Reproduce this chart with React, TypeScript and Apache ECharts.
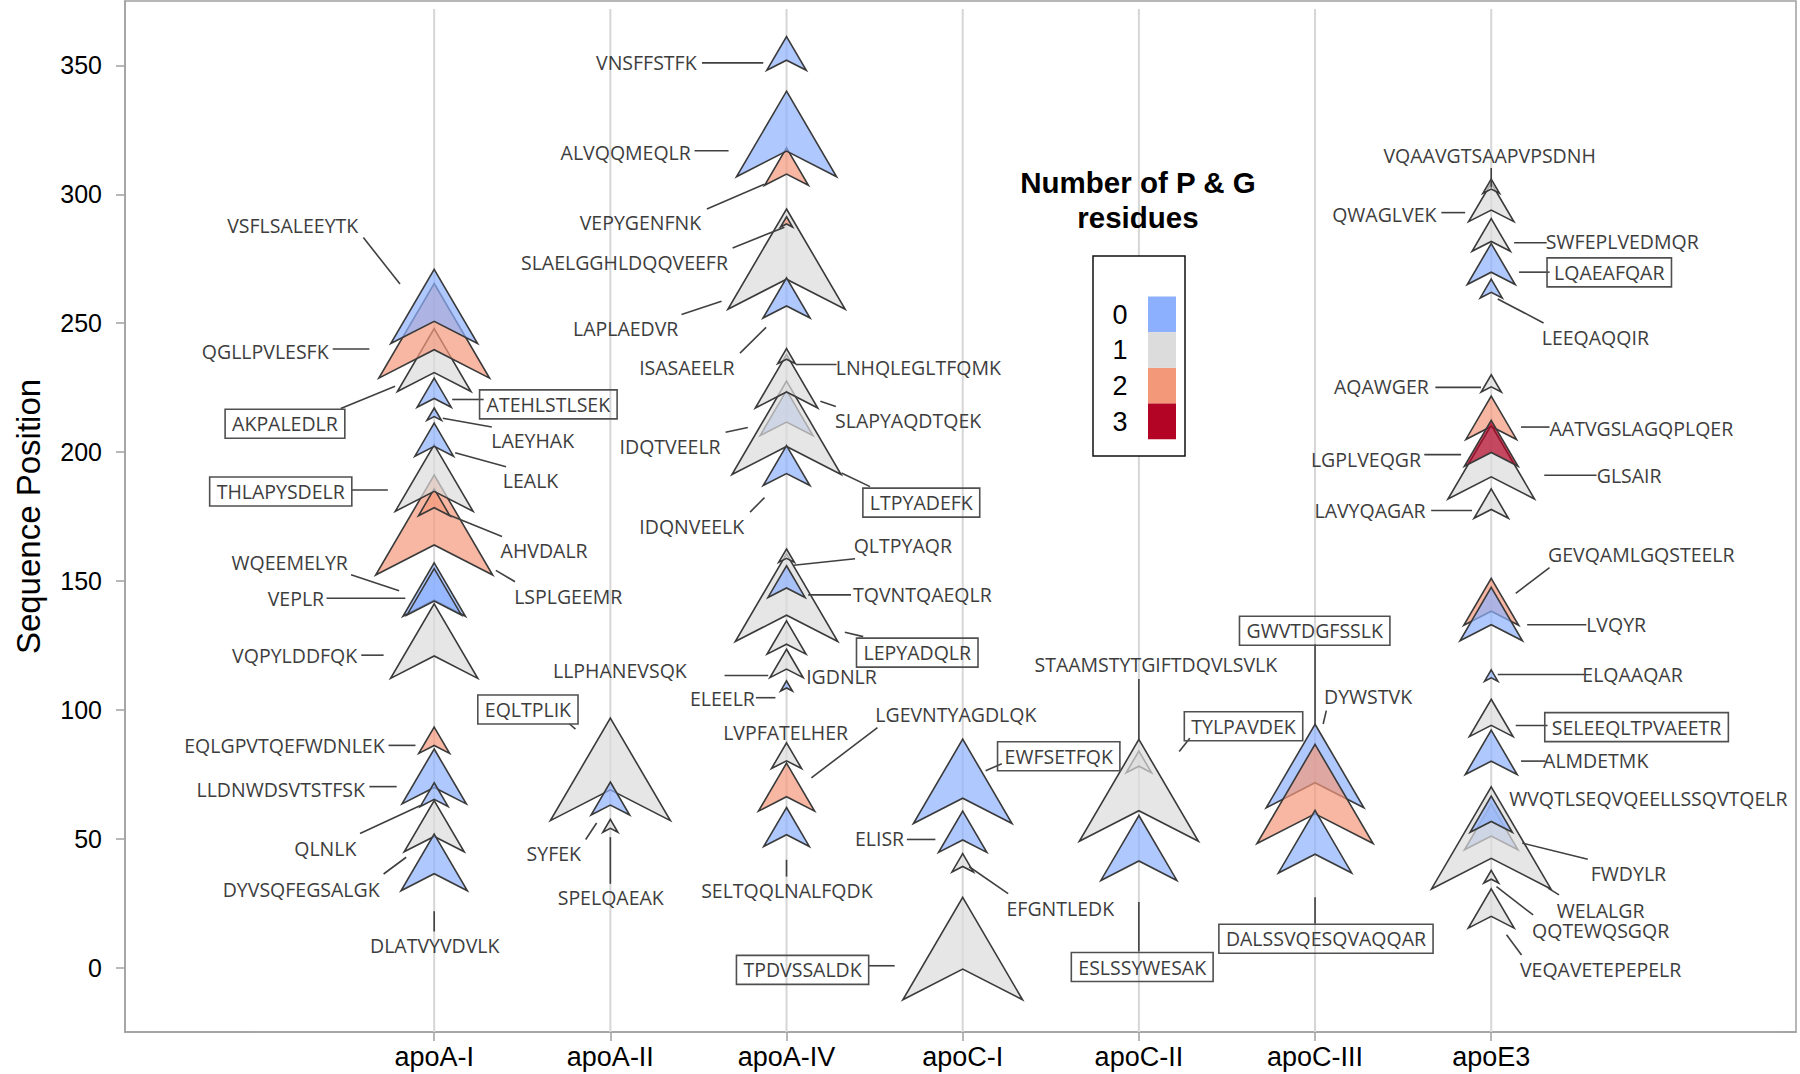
import React, { useEffect, useRef } from 'react';
import * as echarts from 'echarts';

const proteins = ['apoA-I', 'apoA-II', 'apoA-IV', 'apoC-I', 'apoC-II', 'apoC-III', 'apoE3'];
const yTicks = [0, 50, 100, 150, 200, 250, 300, 350];
const pgLevels = [0, 1, 2, 3];
const pgColors = ['#8db0fe', '#dcdcdc', '#f4987a', '#b40426'];
const legendTitle = ['Number of P & G', 'residues'];

// peptide marks: [protein index, sequence position of tip, peptide span, number of P & G residues] (drawing order)
const apoA1Peptides = [
  [0, 247.9, 24.4, 1], [0, 265.4, 36.7, 2], [0, 270.9, 28.8, 0], [0, 228.7, 11.3, 0],
  [0, 217.1, 4.8, 0], [0, 191.1, 38.8, 2], [0, 185.7, 10.4, 2], [0, 202.8, 25.8, 1],
  [0, 211.2, 12.8, 0], [0, 141.1, 28.9, 1], [0, 157.0, 20.7, 0], [0, 154.8, 18.0, 0],
  [0, 64.8, 19.9, 1], [0, 51.8, 22.0, 0], [0, 84.8, 21.3, 0], [0, 71.7, 9.2, 0],
  [0, 93.3, 10.2, 2],
];
const apoA2Peptides = [[1, 96.8, 39.8, 1], [1, 72.0, 12.8, 0], [1, 57.5, 5.0, 1]];
const apoA4Peptides = [
  [2, 361.2, 13.1, 0], [2, 318.0, 14.5, 2], [2, 340.0, 33.2, 0], [2, 294.3, 38.9, 1],
  [2, 291.3, 4.0, 2], [2, 267.6, 15.6, 0], [2, 223.9, 17.5, 0], [2, 227.5, 36.2, 1],
  [2, 237.8, 20.7, 1], [2, 240.1, 5.8, 1], [2, 202.5, 15.5, 0], [2, 160.5, 34.0, 1],
  [2, 162.4, 5.2, 1], [2, 155.9, 12.3, 0], [2, 134.5, 12.9, 1], [2, 123.5, 11.0, 1],
  [2, 111.2, 3.9, 0], [2, 87.2, 10.0, 1], [2, 79.3, 18.6, 2], [2, 62.1, 15.1, 0],
];
const apoC1Peptides = [[3, 88.6, 32.7, 0], [3, 60.7, 16.0, 0], [3, 44.2, 7.1, 1], [3, 27.2, 39.7, 1]];
const apoC2Peptides = [[4, 84.0, 8.4, 1], [4, 88.5, 39.5, 1], [4, 59.0, 25.2, 0]];
const apoC3Peptides = [[5, 94.4, 32.4, 0], [5, 86.6, 38.5, 2], [5, 61.0, 24.3, 0]];
const apoE3Peptides = [
  [6, 304.4, 15.0, 1], [6, 305.9, 5.5, 1], [6, 290.6, 12.7, 1], [6, 280.9, 15.9, 0],
  [6, 267.1, 7.3, 0], [6, 230.0, 6.7, 1], [6, 210.5, 28.7, 1], [6, 221.7, 16.8, 2],
  [6, 212.3, 17.8, 3], [6, 185.7, 11.4, 1], [6, 151.0, 18.2, 2], [6, 147.5, 20.7, 0],
  [6, 115.5, 4.4, 0], [6, 104.1, 14.5, 1], [6, 92.1, 17.2, 0], [6, 63.4, 17.7, 0],
  [6, 70.1, 39.6, 1], [6, 66.5, 14.0, 0], [6, 37.7, 4.9, 1], [6, 30.5, 15.2, 1],
];

// peptide labels in data units: [text, x, y, leader x1, y1, x2, y2, boxed]
const peptideLabels: any[] = [
  ['VSFLSALEEYTK', -0.803, 287.9, -0.402, 283.2, -0.194, 265.2, 0],
  ['QGLLPVLESFK', -0.959, 239.1, -0.576, 240.0, -0.368, 240.0, 0],
  ['AKPALEDLR', -0.847, 211.0, -0.530, 216.9, -0.222, 225.5, 1],
  ['ATEHLSTLSEK', 0.648, 218.5, 0.102, 220.4, 0.281, 220.4, 1],
  ['LAEYHAK', 0.559, 204.4, 0.049, 213.1, 0.327, 209.7, 0],
  ['LEALK', 0.547, 189.0, 0.119, 199.7, 0.408, 194.3, 0],
  ['THLAPYSDELR', -0.871, 184.7, -0.468, 185.3, -0.263, 185.3, 1],
  ['AHVDALR', 0.624, 161.8, 0.084, 175.6, 0.385, 167.2, 0],
  ['WQEEMELYR', -0.820, 157.2, -0.472, 152.4, -0.199, 146.2, 0],
  ['VEPLR', -0.785, 143.3, -0.611, 143.3, -0.164, 143.3, 0],
  ['LSPLGEEMR', 0.761, 143.9, 0.350, 154.1, 0.459, 149.7, 0],
  ['VQPYLDDFQK', -0.792, 120.9, -0.414, 121.2, -0.287, 121.2, 0],
  ['EQLGPVTQEFWDNLEK', -0.850, 86.0, -0.259, 86.2, -0.106, 86.2, 0],
  ['LLDNWDSVTSTFSK', -0.871, 69.2, -0.368, 70.2, -0.213, 70.2, 0],
  ['QLNLK', -0.618, 46.2, -0.421, 52.0, -0.078, 62.9, 0],
  ['DYVSQFEGSALGK', -0.755, 30.4, -0.287, 36.3, -0.159, 42.8, 0],
  ['DLATVYVDVLK', 0.003, 8.5, 0, 21.8, 0, 14.0, 0],
  ['EQLTPLIK', 0.532, 100.1, 0.767, 94.6, 0.802, 92.5, 1],
  ['SYFEK', 0.679, 44.1, 0.860, 49.7, 0.922, 56.1, 0],
  ['SPELQAEAK', 1.002, 27.2, 1, 50.6, 1, 32.5, 0],
  ['VNSFFSTFK', 1.204, 351.3, 1.520, 351.0, 1.868, 351.0, 0],
  ['ALVQQMEQLR', 1.087, 316.1, 1.478, 316.9, 1.671, 316.9, 0],
  ['VEPYGENFNK', 1.171, 289.0, 1.548, 294.3, 1.875, 303.9, 0],
  ['SLAELGGHLDQQVEEFR', 1.080, 273.4, 1.694, 279.2, 1.988, 287.2, 0],
  ['LAPLAEDVR', 1.087, 248.0, 1.404, 253.4, 1.631, 258.5, 0],
  ['ISASAEELR', 1.434, 232.7, 1.736, 238.4, 1.884, 248.4, 0],
  ['LNHQLEGLTFQMK', 2.748, 232.7, 2.053, 234.0, 2.284, 234.0, 0],
  ['SLAPYAQDTQEK', 2.690, 212.1, 2.192, 219.7, 2.280, 217.7, 0],
  ['IDQTVEELR', 1.339, 202.2, 1.654, 207.7, 1.780, 209.5, 0],
  ['LTPYADEFK', 2.765, 180.4, 2.312, 191.9, 2.474, 186.6, 1],
  ['IDQNVEELK', 1.462, 171.3, 1.793, 176.7, 1.875, 182.3, 0],
  ['QLTPYAQR', 2.660, 163.8, 2.041, 156.1, 2.389, 158.6, 0],
  ['TQVNTQAEQLR', 2.771, 144.6, 2.123, 144.6, 2.366, 144.6, 0],
  ['LEPYADQLR', 2.742, 122.2, 2.331, 130.1, 2.435, 128.4, 1],
  ['LLPHANEVSQK', 1.054, 115.2, 1.648, 113.3, 1.896, 113.3, 0],
  ['IGDNLR', 2.312, 113.1, null, null, null, null, 0],
  ['ELEELR', 1.636, 104.5, 1.826, 104.7, 1.937, 104.7, 0],
  ['LVPFATELHER', 1.995, 91.2, null, null, null, null, 0],
  ['LGEVNTYAGDLQK', 2.961, 98.3, 2.141, 73.6, 2.516, 93.1, 0],
  ['SELTQQLNALFQDK', 2.002, 29.8, 2, 41.8, 2, 35.3, 0],
  ['EWFSETFQK', 3.545, 82.0, 3.130, 76.4, 3.222, 79.1, 1],
  ['ELISR', 2.528, 50.0, 2.683, 49.7, 2.845, 49.7, 0],
  ['EFGNTLEDK', 3.554, 22.9, 3.037, 39.1, 3.258, 28.7, 0],
  ['TPDVSSALDK', 2.091, -0.9, 2.465, 0.7, 2.614, 0.7, 1],
  ['STAAMSTYTGIFTDQVLSVLK', 4.096, 117.5, 4, 112.0, 4, 88.4, 0],
  ['TYLPAVDEK', 4.594, 93.6, 4.289, 89.0, 4.229, 83.8, 1],
  ['ESLSSYWESAK', 4.019, 0.2, 4, 25.4, 4, 6.2, 1],
  ['GWVTDGFSSLK', 4.998, 130.7, 5, 125.4, 5, 94.2, 1],
  ['DYWSTVK', 5.301, 105.1, 5.046, 94.5, 5.064, 99.7, 0],
  ['DALSSVQESQVAQQAR', 5.062, 11.2, 5, 27.3, 5, 17.0, 1],
  ['VQAAVGTSAAPVPSDNH', 5.991, 315.2, 6, 310.2, 6, 302.6, 0],
  ['QWAGLVEK', 5.393, 292.3, 5.717, 292.9, 5.852, 292.9, 0],
  ['SWFEPLVEDMQR', 6.744, 281.6, 6.130, 281.2, 6.315, 281.2, 0],
  ['LQAEAFQAR', 6.670, 269.7, 6.158, 269.8, 6.331, 269.8, 1],
  ['LEEQAQQIR', 6.591, 244.5, 6.037, 259.4, 6.297, 250.1, 0],
  ['AQAWGER', 5.377, 225.3, 5.683, 225.1, 5.942, 225.1, 0],
  ['AATVGSLAGQPLQER', 6.852, 209.0, 6.169, 209.7, 6.331, 209.7, 0],
  ['LGPLVEQGR', 5.289, 197.0, 5.620, 199.0, 5.829, 199.0, 0],
  ['GLSAIR', 6.783, 191.0, 6.301, 191.0, 6.598, 191.0, 0],
  ['LAVYQAGAR', 5.312, 177.3, 5.659, 177.3, 5.891, 177.3, 0],
  ['GEVQAMLGQSTEELR', 6.852, 160.4, 6.331, 155.2, 6.139, 145.2, 0],
  ['LVQYR', 6.709, 133.2, 6.204, 133.0, 6.540, 133.0, 0],
  ['ELQAAQAR', 6.802, 113.7, 6.037, 113.7, 6.528, 113.7, 0],
  ['SELEEQLTPVAEETR', 6.825, 93.3, 6.139, 93.9, 6.320, 93.9, 1],
  ['ALMDETMK', 6.593, 80.5, 6.169, 80.1, 6.308, 80.1, 0],
  ['WVQTLSEQVQEELLSSQVTQELR', 6.892, 65.4, null, null, null, null, 0],
  ['FWDYLR', 6.779, 36.3, 6.176, 48.3, 6.548, 42.0, 0],
  ['WELALGR', 6.621, 22.2, 6.323, 30.8, 6.385, 28.2, 0],
  ['QQTEWQSGQR', 6.621, 14.4, 6.030, 31.4, 6.238, 20.4, 0],
  ['VEQAVETEPEPELR', 6.621, -0.7, 6.087, 12.7, 6.172, 4.9, 0],
];

const allPeptides = [
  ...apoA1Peptides, ...apoA2Peptides, ...apoA4Peptides, ...apoC1Peptides,
  ...apoC2Peptides, ...apoC3Peptides, ...apoE3Peptides,
];

const X_MIN = -1.755;
const X_MAX = 7.73;
const Y_MIN = -25;
const Y_MAX = 375;

function rgba(hex: string, a: number) {
  const n = parseInt(hex.slice(1), 16);
  return `rgba(${(n >> 16) & 255},${(n >> 8) & 255},${n & 255},${a})`;
}

const LABEL_FONT = '"Open Sans", "Noto Sans", sans-serif';
const AXIS_FONT = '"Liberation Sans", Arial, sans-serif';

export default function App() {
  const ref = useRef<HTMLDivElement>(null);
  useEffect(() => {
    if (!ref.current) return;
    const chart = echarts.init(ref.current, null, { renderer: 'svg' });
    const idx = proteins.map((_, i) => i);

    const legendGraphics: any[] = [
      {
        type: 'text', x: 1138, y: 182, z: 10,
        style: { text: legendTitle[0], fill: '#000', font: `bold 29.5px ${AXIS_FONT}`, align: 'center', verticalAlign: 'middle', textAlign: 'center', textVerticalAlign: 'middle' },
      },
      {
        type: 'text', x: 1138, y: 217, z: 10,
        style: { text: legendTitle[1], fill: '#000', font: `bold 29.5px ${AXIS_FONT}`, align: 'center', verticalAlign: 'middle', textAlign: 'center', textVerticalAlign: 'middle' },
      },
      {
        type: 'rect', z: 10,
        shape: { x: 1093, y: 256, width: 92, height: 200 },
        style: { fill: '#fff', stroke: '#111', lineWidth: 1.5 },
      },
    ];
    pgLevels.forEach((lv, i) => {
      legendGraphics.push({
        type: 'rect', z: 11,
        shape: { x: 1148, y: 296.5 + i * 35.7, width: 28, height: 35.7 },
        style: { fill: pgColors[i], stroke: null },
      });
      legendGraphics.push({
        type: 'text', x: 1120, y: 314.5 + i * 35.7, z: 11,
        style: { text: String(lv), fill: '#000', font: `27px ${AXIS_FONT}`, align: 'center', verticalAlign: 'middle', textAlign: 'center', textVerticalAlign: 'middle' },
      });
    });

    const option: any = {
      animation: false,
      backgroundColor: '#fff',
      grid: {
        left: 125, right: 4, top: 1, bottom: 42,
        show: true, borderColor: '#a0a0a0', borderWidth: 1.5,
        containLabel: false, outerBoundsMode: 'none',
      },
      xAxis: {
        type: 'value', min: X_MIN, max: X_MAX,
        axisLine: { show: true, onZero: false, lineStyle: { color: '#a0a0a0', width: 1.5 } },
        axisTick: { show: true, customValues: idx, length: 9, lineStyle: { color: '#a0a0a0', width: 1.5 } },
        axisLabel: {
          customValues: idx, formatter: (v: number) => proteins[Math.round(v)] ?? '',
          fontSize: 27, color: '#000', fontFamily: AXIS_FONT, margin: 11,
        },
        splitLine: { show: false },
      },
      yAxis: {
        type: 'value', min: Y_MIN, max: Y_MAX,
        name: 'Sequence Position', nameLocation: 'middle', nameRotate: 90, nameGap: 80,
        nameTextStyle: { fontSize: 33, color: '#000', fontFamily: AXIS_FONT },
        axisLine: { show: true, onZero: false, lineStyle: { color: '#a0a0a0', width: 1.5 } },
        axisTick: { show: true, customValues: yTicks, length: 9, lineStyle: { color: '#a0a0a0', width: 1.5 } },
        axisLabel: { customValues: yTicks, fontSize: 25, color: '#000', fontFamily: AXIS_FONT, margin: 23 },
        splitLine: { show: false },
      },
      graphic: legendGraphics,
      series: [
        {
          type: 'custom', z: 1, silent: true,
          data: idx.map((i) => [i, 0]),
          renderItem: (params: any, api: any) => {
            const a = api.coord([api.value(0), Y_MAX]);
            const b = api.coord([api.value(0), Y_MIN]);
            return {
              type: 'line',
              shape: { x1: a[0], y1: a[1] + 8, x2: b[0], y2: b[1] },
              style: { stroke: '#d6d6d6', lineWidth: 2 },
            };
          },
        },
        {
          type: 'custom', z: 2, silent: true,
          encode: { x: 0, y: 1 },
          data: allPeptides,
          renderItem: (params: any, api: any) => {
            const cat = api.value(0), tip = api.value(1), len = api.value(2), pg = api.value(3);
            const pT = api.coord([cat, tip]);
            const pB = api.coord([cat, tip - len]);
            const h = pB[1] - pT[1];
            const hw = h * 0.585;
            const cx = pT[0];
            return {
              type: 'polygon',
              shape: { points: [[cx, pT[1]], [cx + hw, pB[1]], [cx, pB[1] - h * 0.3], [cx - hw, pB[1]]] },
              style: { fill: rgba(pgColors[pg], 0.7), stroke: '#3a3a3a', lineWidth: 1.6, lineJoin: 'miter' },
            };
          },
        },
        {
          type: 'custom', z: 3, silent: true,
          encode: { x: 0, y: 1 },
          data: peptideLabels.map((l) => [l[1], l[2]]),
          renderItem: (params: any, api: any) => {
            const L = peptideLabels[params.dataIndex];
            const p = api.coord([L[1], L[2]]);
            const children: any[] = [];
            if (L[3] !== null) {
              const a = api.coord([L[3], L[4]]);
              const b = api.coord([L[5], L[6]]);
              children.push({
                type: 'line',
                shape: { x1: a[0], y1: a[1], x2: b[0], y2: b[1] },
                style: { stroke: '#404040', lineWidth: 1.6 },
              });
            }
            const boxed = !!L[7];
            children.push({
              type: 'text', x: p[0], y: p[1],
              style: {
                text: L[0], fill: '#3d3d3d', fontSize: 19.5, fontFamily: LABEL_FONT,
                align: 'center', verticalAlign: 'middle', textAlign: 'center', textVerticalAlign: 'middle',
                borderColor: boxed ? '#505050' : undefined, borderWidth: boxed ? 1.6 : 0,
                padding: boxed ? [5, 7, 4, 7] : 0,
              },
            });
            return { type: 'group', children };
          },
        },
      ],
    };
    chart.setOption(option);
    return () => chart.dispose();
  }, []);
  return (
    <div
      ref={ref}
      style={{ position: 'fixed', left: 0, top: 0, width: 1800, height: 1074, background: '#fff' }}
    />
  );
}
